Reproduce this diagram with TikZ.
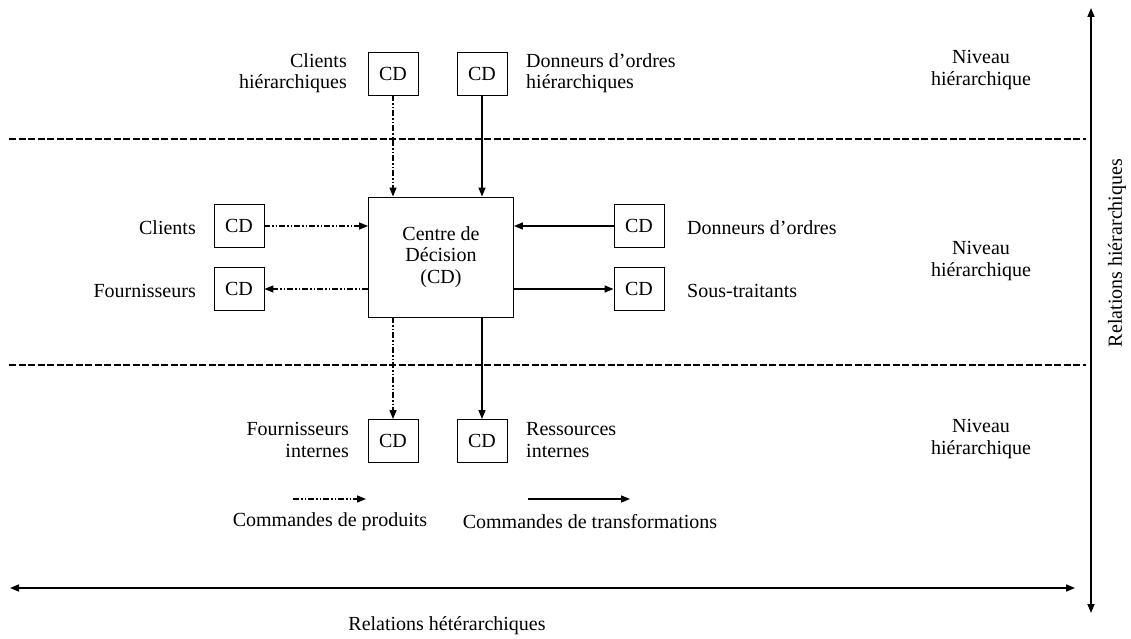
\documentclass[tikz,border=0pt]{standalone}
\usepackage{fontspec}
\setmainfont{Liberation Serif}
\usetikzlibrary{arrows.meta}
\begin{document}
\begin{tikzpicture}[x=1pt,y=-1pt,
  every node/.style={font=\fontsize{20}{21.5}\selectfont, inner sep=0pt},
  cdbox/.style={draw, line width=0.9pt, minimum width=50pt, minimum height=43pt},
  central/.style={draw, line width=0.9pt, minimum width=145pt, minimum height=120pt, align=center},
  tip/.style={-{Triangle[length=9pt,width=7pt]}},
  order/.style={tip, line width=1.4pt},
  product/.style={tip, line width=1.3pt, dash pattern=on 6pt off 2pt on 1.5pt off 2pt on 1.5pt off 2pt},
  level/.style={line width=1.3pt, dash pattern=on 7pt off 2.5pt},
  axis/.style={line width=1.6pt, {Triangle[length=9pt,width=7pt]}-{Triangle[length=9pt,width=7pt]}},
  lbl/.style={align=right, anchor=east},
  rbl/.style={align=left, anchor=west}]
\useasboundingbox (0,0) rectangle (1131,639);

% level separators
\coordinate (l1a) at (9,139);   \coordinate (l1b) at (1086,139);
\coordinate (l2a) at (9,365);   \coordinate (l2b) at (1086,365);
\draw[level] (l1a) -- (l1b);
\draw[level] (l2a) -- (l2b);

% decision centre
\node[central] (cd) at (441,257) {Centre de\\Décision\\(CD)};

% upper level
\node[cdbox] (ch) at (393,73.5) {CD};
\node[cdbox] (dh) at (482,73.5) {CD};
% same level
\node[cdbox] (cl) at (239,226) {CD};
\node[cdbox] (fo) at (239,289) {CD};
\node[cdbox] (do) at (639,226) {CD};
\node[cdbox] (st) at (639,289) {CD};
% lower level
\node[cdbox] (fi) at (393,441) {CD};
\node[cdbox] (ri) at (482,441) {CD};

% product orders
\draw[product] (ch.south) -- (ch.south |- cd.north);
\draw[product] (cl.east) -- (cl.east -| cd.west);
\draw[product] (fo.east -| cd.west) -- (fo.east);
\draw[product] (fi.north |- cd.south) -- (fi.north);
% transformation orders
\draw[order] (dh.south) -- (dh.south |- cd.north);
\draw[order] (do.west) -- (do.west -| cd.east);
\draw[order] (st.west -| cd.east) -- (st.west);
\draw[order] (ri.north |- cd.south) -- (ri.north);

% labels
\node[lbl] (tch) at (347,73) {Clients\\hiérarchiques};
\node[rbl] (tdh) at (526,73) {Donneurs d’ordres\\hiérarchiques};
\node[lbl] (tcl) at (196,228) {Clients};
\node[lbl] (tfo) at (196,291) {Fournisseurs};
\node[rbl] (tdo) at (687,228) {Donneurs d’ordres};
\node[rbl] (tst) at (687,291) {Sous-traitants};
\node[lbl] (tfi) at (349,440) {Fournisseurs\\internes};
\node[rbl] (tri) at (526,440) {Ressources\\internes};

% level names
\node[align=center] (n1) at (981,70) {Niveau\\hiérarchique};
\node[align=center] (n2) at (981,261) {Niveau\\hiérarchique};
\node[align=center] (n3) at (981,439) {Niveau\\hiérarchique};

% legend
\coordinate (pa) at (293,499); \coordinate (pb) at (366,499);
\coordinate (oa) at (528,499); \coordinate (ob) at (630,499);
\draw[product] (pa) -- (pb);
\draw[order] (oa) -- (ob);
\node (tp) at (330,522) {Commandes de produits};
\node (to) at (590,522) {Commandes de transformations};

% relation axes
\coordinate (ha) at (10,588); \coordinate (hb) at (1075,588);
\coordinate (va) at (1091,8);  \coordinate (vb) at (1091,613);
\draw[axis] (ha) -- (hb);
\draw[axis] (va) -- (vb);
\node (th) at (447,626) {Relations hétérarchiques};
\node[rotate=90] (tv) at (1117,253) {Relations hiérarchiques};
\end{tikzpicture}
\end{document}
